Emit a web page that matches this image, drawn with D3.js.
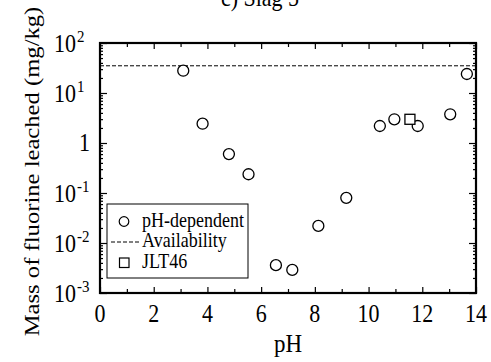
<!DOCTYPE html>
<html>
<head>
<meta charset="utf-8">
<script src="https://cdn.jsdelivr.net/npm/d3@7"></script>
<style>
  body { margin: 0; background: #fff; }
</style>
</head>
<body>
<div id="chart"></div>
<script>
// pH-dependent leaching test
const phValues = [3.10, 3.82, 4.80, 5.53, 6.55, 7.16, 8.13, 9.17, 10.42, 10.96, 11.83, 13.04, 13.66]
const massValues = [27.9, 2.43, 0.60, 0.237, 0.0036, 0.0029, 0.022, 0.080, 2.19, 2.98, 2.19, 3.75, 24]
// JLT46 test
const jltPh = [11.54]
const jltMass = [2.98]
// availability
const availability = 35

const xTicks = [0, 2, 4, 6, 8, 10, 12, 14]
const yExponents = [-3, -2, -1, 0, 1, 2]
const legendLabels = ['pH-dependent', 'Availability', 'JLT46']

const width = 491
const height = 362
const margin = { top: 43, right: 15, bottom: 69, left: 100 }
const serif = '"Liberation Serif", "Times New Roman", Times, serif'
const stretch = 1.12 // the source figure's text is a bit taller than wide

const x = d3.scaleLinear().domain([0, 14]).range([margin.left, width - margin.right])
const y = d3.scaleLog().domain([1e-3, 1e2]).range([height - margin.bottom, margin.top])

const svg = d3.select('#chart').append('svg')
  .attr('width', width)
  .attr('height', height)
  .style('font-family', serif)

// text placed at (tx, ty) with vertical stretch
const label = (sel, tx, ty, rot) => sel
  .attr('transform', (d, i) => {
    const px = typeof tx === 'function' ? tx(d, i) : tx
    const py = typeof ty === 'function' ? ty(d, i) : ty
    return `translate(${px},${py}) scale(1,${stretch})` + (rot ? ` rotate(${rot})` : '')
  })
  .attr('fill', '#000')

// minor ticks for log axis
const minorY = []
yExponents.slice(0, -1).forEach(e => {
  for (let k = 2; k <= 9; k++) minorY.push(k * Math.pow(10, e))
})
const minorX = d3.range(1, 14, 2)
const majorY = yExponents.map(e => Math.pow(10, e))

const axisStyle = g => g
  .call(g => g.select('.domain').remove())
  .call(g => g.selectAll('line').attr('stroke', '#000').attr('stroke-width', 1.2))

// bottom / top ticks
svg.append('g')
  .attr('transform', `translate(0,${y(1e-3)})`)
  .call(d3.axisBottom(x).tickValues(xTicks).tickSize(-6).tickFormat(''))
  .call(axisStyle)
svg.append('g')
  .attr('transform', `translate(0,${y(1e-3)})`)
  .call(d3.axisBottom(x).tickValues(minorX).tickSize(-4).tickFormat(''))
  .call(axisStyle)
svg.append('g')
  .attr('transform', `translate(0,${y(1e2)})`)
  .call(d3.axisTop(x).tickValues(xTicks).tickSize(-6).tickFormat(''))
  .call(axisStyle)
svg.append('g')
  .attr('transform', `translate(0,${y(1e2)})`)
  .call(d3.axisTop(x).tickValues(minorX).tickSize(-4).tickFormat(''))
  .call(axisStyle)

// left / right ticks
svg.append('g')
  .attr('transform', `translate(${x(0)},0)`)
  .call(d3.axisLeft(y).tickValues(majorY).tickSize(-7).tickFormat(''))
  .call(axisStyle)
svg.append('g')
  .attr('transform', `translate(${x(0)},0)`)
  .call(d3.axisLeft(y).tickValues(minorY).tickSize(-3).tickFormat(''))
  .call(axisStyle)
svg.append('g')
  .attr('transform', `translate(${x(14)},0)`)
  .call(d3.axisRight(y).tickValues(majorY).tickSize(-7).tickFormat(''))
  .call(axisStyle)
svg.append('g')
  .attr('transform', `translate(${x(14)},0)`)
  .call(d3.axisRight(y).tickValues(minorY).tickSize(-3).tickFormat(''))
  .call(axisStyle)

// x tick labels
svg.append('g').selectAll('text')
  .data(xTicks)
  .join('text')
  .call(label, d => x(d), y(1e-3) + 29)
  .attr('text-anchor', 'middle')
  .attr('font-size', 22)
  .text(d => d)

// y tick labels: 10^n, with plain "1" for 10^0
const yl = svg.append('g')
yl.selectAll('text.base')
  .data(yExponents.filter(e => e !== 0))
  .join('text')
  .attr('class', 'base')
  .call(label, 76, e => y(Math.pow(10, e)) + 8.5)
  .attr('text-anchor', 'end')
  .attr('font-size', 22)
  .text('10')
yl.selectAll('text.sup')
  .data(yExponents.filter(e => e !== 0))
  .join('text')
  .attr('class', 'sup')
  .call(label, 77, e => y(Math.pow(10, e)) - 1)
  .attr('font-size', 15)
  .text(e => e < 0 ? '-' + Math.abs(e) : e)
yl.append('text')
  .call(label, 90, y(1) + 7.5)
  .attr('text-anchor', 'end')
  .attr('font-size', 22)
  .text('1')

// frame
svg.append('rect')
  .attr('x', x(0))
  .attr('y', y(1e2))
  .attr('width', x(14) - x(0))
  .attr('height', y(1e-3) - y(1e2))
  .attr('fill', 'none')
  .attr('stroke', '#000')
  .attr('stroke-width', 2.2)

// availability line
svg.append('line')
  .attr('x1', x(0)).attr('x2', x(14))
  .attr('y1', y(availability)).attr('y2', y(availability))
  .attr('stroke', '#000')
  .attr('stroke-width', 1)
  .attr('stroke-dasharray', '4,2')

// pH-dependent points
svg.append('g').selectAll('circle')
  .data(phValues.map((p, i) => [p, massValues[i]]))
  .join('circle')
  .attr('cx', d => x(d[0]))
  .attr('cy', d => y(d[1]))
  .attr('r', 5.5)
  .attr('fill', '#fff')
  .attr('stroke', '#000')
  .attr('stroke-width', 1.3)

// JLT46 points
svg.append('g').selectAll('rect')
  .data(jltPh.map((p, i) => [p, jltMass[i]]))
  .join('rect')
  .attr('x', d => x(d[0]) - 5)
  .attr('y', d => y(d[1]) - 5)
  .attr('width', 10)
  .attr('height', 10)
  .attr('fill', '#fff')
  .attr('stroke', '#000')
  .attr('stroke-width', 1.3)

// legend
const lg = svg.append('g')
lg.append('rect')
  .attr('x', 107).attr('y', 204)
  .attr('width', 141).attr('height', 74)
  .attr('fill', '#fff')
  .attr('stroke', '#000')
  .attr('stroke-width', 1)
lg.append('circle')
  .attr('cx', 124).attr('cy', 221.5).attr('r', 4.8)
  .attr('fill', '#fff').attr('stroke', '#000').attr('stroke-width', 1.2)
lg.append('line')
  .attr('x1', 111).attr('x2', 140).attr('y1', 242).attr('y2', 242)
  .attr('stroke', '#000').attr('stroke-dasharray', '4,2')
lg.append('rect')
  .attr('x', 119.5).attr('y', 258).attr('width', 9.5).attr('height', 9.5)
  .attr('fill', '#fff').attr('stroke', '#000').attr('stroke-width', 1.2)
lg.selectAll('text.lbl')
  .data(legendLabels)
  .join('text')
  .attr('class', 'lbl')
  .call(label, 142, (d, i) => 226.5 + i * 20.8)
  .attr('font-size', 18)
  .text(d => d)

// axis titles
svg.append('text')
  .call(label, 288, 352)
  .attr('text-anchor', 'middle')
  .attr('font-size', 23)
  .text('pH')

svg.append('text')
  .call(label, 39, 171.5, -90)
  .attr('text-anchor', 'middle')
  .attr('font-size', 22)
  .text('Mass of fluorine leached (mg/kg)')

// title (cropped at the top, as in the source figure)
svg.append('text')
  .call(label, 260, 6)
  .attr('text-anchor', 'middle')
  .attr('font-size', 22)
  .text('c) Slag 5')
</script>
</body>
</html>
